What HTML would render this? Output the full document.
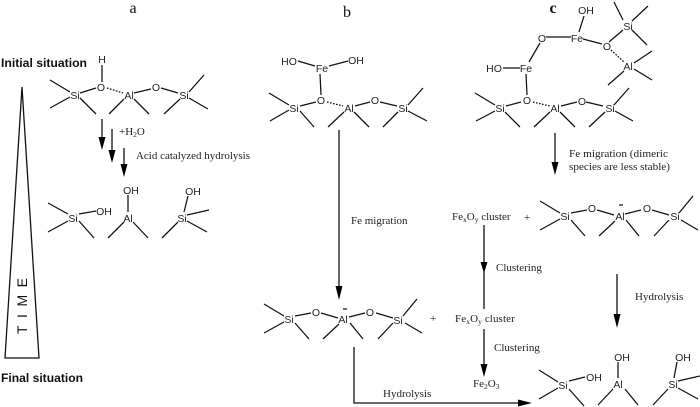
<!DOCTYPE html>
<html><head><meta charset="utf-8"><style>
html,body{margin:0;padding:0;background:#fff}
svg{display:block;filter:blur(0.35px)}
.l{stroke:#111;stroke-width:1.25;fill:none;stroke-linecap:butt}
.a{stroke:#111;stroke-width:1.3;fill:none}
.d{stroke:#111;stroke-width:1.3;fill:none;stroke-dasharray:1.6 1.5}
.h{fill:#000}
text{fill:#222}
.s{font:10.5px "Liberation Sans",sans-serif;text-anchor:middle}
.t{font:11px "Liberation Serif",serif}
.b{font:bold 12px "Liberation Sans",sans-serif;fill:#111}
.c{font:16px "Liberation Serif",serif;text-anchor:middle;fill:#111}
.u{font-size:7.5px}
</style></head><body>
<svg width="700" height="407" viewBox="0 0 700 407" xmlns="http://www.w3.org/2000/svg">
<rect width="700" height="407" fill="#fff"/>
<text class="c" x="133" y="13">a</text>
<text class="c" x="347" y="17">b</text>
<text class="c" x="553" y="13" style="font-weight:bold">c</text>
<text class="b" x="1" y="67" textLength="86" lengthAdjust="spacingAndGlyphs">Initial situation</text>
<text class="b" x="1" y="382" textLength="82" lengthAdjust="spacingAndGlyphs">Final situation</text>
<path class="a" d="M22 87L39 358H5Z"/>
<text transform="translate(27,334) rotate(-90)" style="font:14px 'Liberation Sans',sans-serif;letter-spacing:7.5px;fill:#111">TIME</text>

<!-- a top -->
<g class="l">
<path d="M50 80L70 92M50 108L70 97M80 98L96 114M80 93L96 88M102 82V65M109 114L124 99M134 99L149 114M134 93L151 89M161 88L178 93M164 114L180 99M189 92L204 75M189 98L208 109"/>
</g>
<path class="d" d="M107 88L123 93"/>
<text class="s" x="75" y="99">Si</text><text class="s" x="101" y="91">O</text><text class="s" x="102" y="63">H</text><text class="s" x="129" y="99">Al</text><text class="s" x="156" y="91">O</text><text class="s" x="184" y="99">Si</text>
<path class="a" d="M102 119V142M112 129V155M124 148V168"/>
<path class="h" d="M98.500 137H105.500L102 150ZM108.500 150H115.500L112 163ZM120.500 164H127.500L124 177Z"/>
<text class="t" x="119" y="135">+H<tspan class="u" dy="2">2</tspan><tspan dy="-2">O</tspan></text>
<text class="t" x="136" y="159" textLength="114" lengthAdjust="spacingAndGlyphs">Acid catalyzed hydrolysis</text>

<!-- a products -->
<g class="l">
<path d="M48 203L68 214M48 232L68 221M79 221L94 238M79 214L96 211M128 195V212M108 238L124 222M133 222L148 238M188 196L184 212M162 238L178 222M187 215L209 210M187 221L207 232"/>
</g>
<text class="s" x="73" y="222">Si</text><text class="s" x="104" y="215">OH</text><text class="s" x="128" y="222">Al</text><text class="s" x="131" y="194">OH</text><text class="s" x="182" y="222">Si</text><text class="s" x="193" y="195">OH</text>

<!-- b top -->
<g class="l">
<path d="M298 61L315 66M329 66L348 61M320 74L321 95M269 93L289 105M270 121L289 110M300 111L314 127M300 106L316 102M328 127L344 112M354 112L369 127M355 106L370 102M380 102L397 106M383 127L398 112M408 105L423 88M408 111L427 121"/>
</g>
<path class="d" d="M327 102L343 106"/>
<text class="s" x="289" y="65">HO</text><text class="s" x="356" y="64">OH</text><text class="s" x="322" y="72">Fe</text><text class="s" x="321" y="104">O</text><text class="s" x="294" y="112">Si</text><text class="s" x="349" y="112">Al</text><text class="s" x="375" y="104">O</text><text class="s" x="403" y="112">Si</text>
<path class="a" d="M339 130V288"/>
<path class="h" d="M335.500 286H342.500L339 300Z"/>
<text class="t" x="351" y="224">Fe migration</text>

<!-- b lower -->
<g class="l">
<path d="M264 304L284 316M264 333L284 322M295 323L309 339M295 316L311 313M321 313L338 318M323 339L339 324M350 323L363 339M349 317L365 313M376 313L393 318M378 339L393 323M403 316L417 299M405 323L422 333"/>
</g>
<text class="s" x="289" y="323">Si</text><text class="s" x="316" y="316">O</text><text class="s" x="343" y="323">Al</text><text class="s" x="370" y="316">O</text><text class="s" x="398" y="324">Si</text>
<path class="l" d="M343 309H347"/>
<text class="t" x="430" y="322">+</text>
<path class="a" d="M354 347V403H520"/>
<path class="h" d="M518 399.500V406.500L532 403Z"/>
<text class="t" x="383" y="397">Hydrolysis</text>

<!-- c top -->
<g class="l">
<path d="M579 32L584 16M546 37H571M583 39L602 44M609 42L623 30M623 20L614 2M632 21L648 6M632 30L647 45M634 63L652 51M634 69L652 80M608 85L624 71M529 62L540 43M503 68H520M526 74L527 95M475 93L495 105M476 121L495 111M505 112L520 127M506 106L521 102M534 127L550 112M560 112L575 127M561 106L577 102M586 102L603 106M589 127L605 112M614 105L629 88M615 111L633 121"/>
</g>
<path class="d" d="M611 50L624 62M533 102L550 106"/>
<text class="s" x="586" y="14">OH</text><text class="s" x="577" y="42">Fe</text><text class="s" x="542" y="42">O</text><text class="s" x="628" y="30">Si</text><text class="s" x="607" y="50">O</text><text class="s" x="628" y="70">Al</text><text class="s" x="526" y="72">Fe</text><text class="s" x="494" y="72">HO</text><text class="s" x="527" y="104">O</text><text class="s" x="500" y="112">Si</text><text class="s" x="555" y="112">Al</text><text class="s" x="582" y="105">O</text><text class="s" x="610" y="112">Si</text>
<path class="a" d="M555 133V164"/>
<path class="h" d="M551.500 162H558.500L555 175Z"/>
<text class="t" x="569" y="157" textLength="99" lengthAdjust="spacingAndGlyphs">Fe migration (dimeric</text>
<text class="t" x="569" y="170" textLength="101" lengthAdjust="spacingAndGlyphs">species are less stable)</text>

<!-- c mid -->
<text class="t" x="452" y="220">Fe<tspan class="u" dy="2">x</tspan><tspan dy="-2">O</tspan><tspan class="u" dy="2">y</tspan><tspan dy="-2"> cluster</tspan></text>
<text class="t" x="524" y="221">+</text>
<g class="l" transform="translate(276,-103)">
<path d="M264 304L284 316M264 333L284 322M295 323L309 339M295 316L311 313M321 313L338 318M323 339L339 324M350 323L363 339M349 317L365 313M376 313L393 318M378 339L393 323M403 316L417 299M405 323L422 333"/>
</g>
<text class="s" x="565" y="220">Si</text><text class="s" x="592" y="212">O</text><text class="s" x="620" y="220">Al</text><text class="s" x="647" y="212">O</text><text class="s" x="675" y="220">Si</text>
<path class="l" d="M619 205H623"/>
<path class="a" d="M484 225V309"/>
<path class="h" d="M480.500 262H487.500L484 273Z"/>
<text class="t" x="496" y="271">Clustering</text>
<text class="t" x="455" y="322" style="letter-spacing:.1px">Fe<tspan class="u" dy="2">x</tspan><tspan dy="-2">O</tspan><tspan class="u" dy="2">y</tspan><tspan dy="-2"> cluster</tspan></text>
<path class="a" d="M484 329V366"/>
<path class="h" d="M480.500 364H487.500L484 377Z"/>
<text class="t" x="494" y="351">Clustering</text>
<text class="t" x="473" y="387">Fe<tspan class="u" dy="2">2</tspan><tspan dy="-2">O</tspan><tspan class="u" dy="2">3</tspan></text>
<path class="a" d="M617 274V316"/>
<path class="h" d="M613.500 314H620.500L617 328Z"/>
<text class="t" x="635" y="300">Hydrolysis</text>

<!-- final products -->
<g class="l">
<path d="M539 370L558 382M539 399L558 388M569 389L584 406M569 381L585 377M618 362V378M598 405L613 389M625 389L638 405M677 362L674 378M653 405L668 389M678 381L700 376M678 388L698 399"/>
</g>
<text class="s" x="563" y="389">Si</text><text class="s" x="594" y="381">OH</text><text class="s" x="618" y="388">Al</text><text class="s" x="622" y="361">OH</text><text class="s" x="673" y="388">Si</text><text class="s" x="683" y="361">OH</text>
</svg>
</body></html>
